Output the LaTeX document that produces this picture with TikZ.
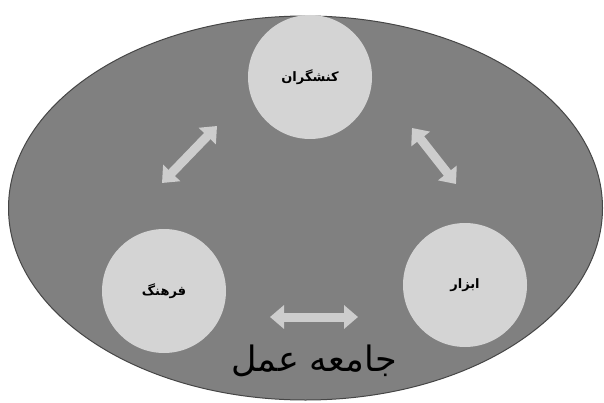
\documentclass[tikz,border=0pt]{standalone}
\usepackage{fontspec}
\usetikzlibrary{arrows.meta,shapes.geometric}
\newfontfamily\arabicfont[Script=Arabic]{DejaVu Sans}
\TeXXeTstate=1
\definecolor{ellgray}{RGB}{128,128,128}
\definecolor{circgray}{RGB}{212,212,212}
\definecolor{arrowgray}{RGB}{205,205,205}
\definecolor{rimgray}{RGB}{70,70,70}
\begin{document}
\begin{tikzpicture}[x=1pt,y=-1pt,
  bubble/.style={circle,fill=circgray,minimum size=124pt,inner sep=0pt,
    font=\arabicfont\bfseries\fontsize{13}{15}\selectfont},
  duo/.style={draw=arrowgray,line width=9pt,
    {Triangle[width=23pt,length=14pt]}-{Triangle[width=23pt,length=14pt]}}]
\fill[white] (0,0) rectangle (604,403);
\useasboundingbox (0,0) rectangle (604,403);
\node[ellipse,draw=rimgray,line width=1pt,fill=ellgray,
  minimum width=594pt,minimum height=384pt,inner sep=0pt] (comm) at (305.5,208) {};
\node[bubble] (act) at (310,77) {\beginR کنشگران\endR};
\node[bubble] (cul) at (164,291) {\beginR فرهنگ\endR};
\node[bubble] (tool) at (465,285) {\beginR ابزار\endR};
\node[font=\arabicfont\fontsize{35}{40}\selectfont] (cop) at (314,361) {\beginR جامعه عمل\endR};
\coordinate (a1) at (162,183);
\coordinate (a2) at (217,126);
\coordinate (b1) at (412,128);
\coordinate (b2) at (456,184);
\coordinate (c1) at (270,317);
\coordinate (c2) at (358,317);
\draw[duo] (a1) -- (a2);
\draw[duo] (b1) -- (b2);
\draw[duo] (c1) -- (c2);
\end{tikzpicture}
\end{document}
